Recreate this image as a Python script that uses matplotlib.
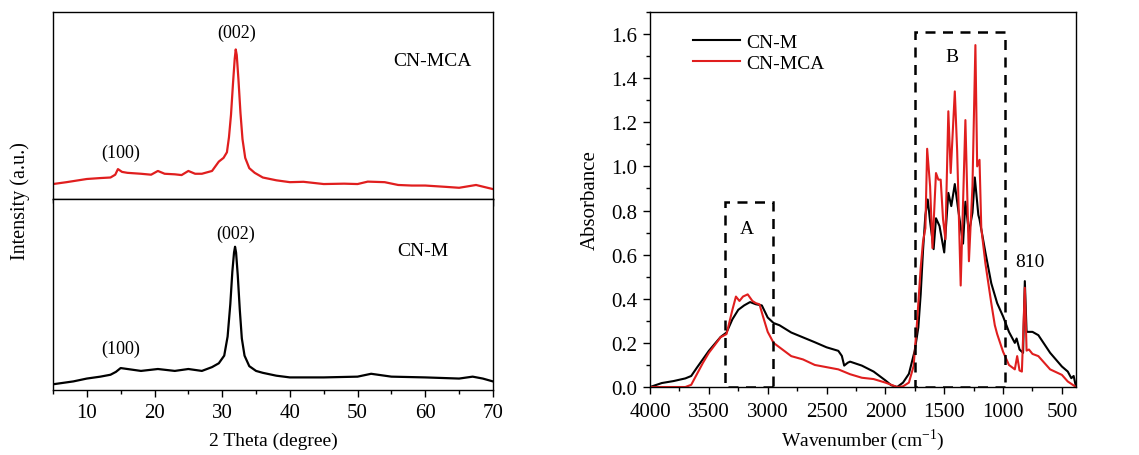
import matplotlib
matplotlib.use("Agg")
import matplotlib.pyplot as plt
from matplotlib.patches import Rectangle
from matplotlib.ticker import MultipleLocator, FormatStrFormatter

plt.rcParams["font.family"] = ["Liberation Serif", "DejaVu Serif"]
plt.rcParams["mathtext.fontset"] = "stix"

# XRD, CN-MCA (top panel, arbitrary units)
xrd_mca_theta = [5, 7, 10, 12, 13.5, 14.2, 14.6, 15.2, 16, 18, 19.5, 20.5, 21.5, 23, 24,
                 25, 26, 27, 28.5, 29.5, 30.2, 30.7, 31.0, 31.3, 31.6, 31.85, 32.0, 32.15,
                 32.4, 32.7, 33.0, 33.4, 34, 34.8, 36, 38, 40, 42, 45, 48, 50, 51.5, 54,
                 56, 58, 60, 63, 65, 67.5, 70]
xrd_mca_int = [0.08, 0.09, 0.107, 0.112, 0.115, 0.13, 0.16, 0.145, 0.14, 0.135, 0.13, 0.15,
               0.135, 0.132, 0.128, 0.15, 0.135, 0.135, 0.15, 0.2, 0.22, 0.25, 0.33, 0.45,
               0.62, 0.75, 0.80, 0.77, 0.64, 0.46, 0.32, 0.22, 0.165, 0.14, 0.115, 0.1,
               0.09, 0.092, 0.08, 0.082, 0.08, 0.093, 0.09, 0.075, 0.072, 0.072, 0.065,
               0.06, 0.075, 0.053]

# XRD, CN-M (bottom panel)
xrd_m_theta = [5, 8, 10, 12, 13.5, 14.3, 15, 16, 18, 20.5, 23, 25, 27, 28.5, 29.5, 30.3,
               30.8, 31.2, 31.5, 31.75, 31.9, 32.05, 32.3, 32.6, 32.9, 33.3, 34, 35, 36,
               38, 40, 45, 50, 52, 55, 60, 65, 67, 68.5, 70]
xrd_m_int = [0.03, 0.045, 0.06, 0.07, 0.08, 0.095, 0.115, 0.11, 0.1, 0.11, 0.1, 0.11, 0.1,
             0.12, 0.14, 0.18, 0.28, 0.45, 0.62, 0.72, 0.75, 0.72, 0.6, 0.42, 0.27, 0.18,
             0.125, 0.1, 0.09, 0.075, 0.066, 0.066, 0.07, 0.085, 0.07, 0.066, 0.06, 0.07,
             0.06, 0.045]

# FTIR, CN-M
ir_m_wn = [4000, 3900, 3800, 3700, 3650, 3600, 3500, 3400, 3350, 3300, 3250, 3200, 3150,
           3100, 3050, 3000, 2950, 2900, 2800, 2700, 2600, 2500, 2400, 2370, 2350, 2320,
           2300, 2200, 2100, 2000, 1950, 1900, 1850, 1800, 1750, 1720, 1700, 1680, 1660,
           1640, 1620, 1590, 1570, 1540, 1500, 1465, 1440, 1410, 1380, 1340, 1320, 1290,
           1260, 1240, 1210, 1200, 1150, 1100, 1050, 1000, 950, 900, 885, 860, 830, 815,
           800, 750, 700, 600, 500, 450, 420, 400, 380]
ir_m_abs = [0.0, 0.018, 0.027, 0.039, 0.05, 0.089, 0.164, 0.227, 0.247, 0.307, 0.35, 0.37,
            0.385, 0.375, 0.37, 0.315, 0.29, 0.28, 0.247, 0.225, 0.203, 0.18, 0.164, 0.141,
            0.097, 0.11, 0.115, 0.097, 0.07, 0.03, 0.008, 0.0, 0.02, 0.06, 0.166, 0.27,
            0.42, 0.62, 0.78, 0.85, 0.75, 0.625, 0.765, 0.73, 0.61, 0.88, 0.82, 0.92, 0.80,
            0.65, 0.84, 0.70, 0.79, 0.95, 0.78, 0.76, 0.61, 0.47, 0.38, 0.32, 0.25, 0.2,
            0.22, 0.17, 0.155, 0.48, 0.25, 0.25, 0.235, 0.155, 0.093, 0.07, 0.04, 0.05, 0.0]

# FTIR, CN-MCA
ir_mca_wn = [4000, 3700, 3650, 3600, 3550, 3500, 3450, 3400, 3350, 3300, 3270, 3240, 3210,
             3170, 3130, 3100, 3070, 3040, 3000, 2950, 2900, 2800, 2700, 2600, 2500, 2400,
             2300, 2200, 2100, 2000, 1900, 1850, 1800, 1760, 1730, 1700, 1680, 1660, 1645,
             1620, 1600, 1570, 1550, 1530, 1510, 1490, 1465, 1445, 1410, 1390, 1360, 1320,
             1290, 1260, 1235, 1220, 1200, 1185, 1150, 1100, 1070, 1050, 1000, 950, 900,
             880, 860, 840, 815, 800, 780, 750, 700, 600, 500, 450, 380]
ir_mca_abs = [0.0, 0.0, 0.01, 0.06, 0.11, 0.155, 0.19, 0.226, 0.24, 0.35, 0.41, 0.39, 0.41,
              0.42, 0.39, 0.38, 0.375, 0.32, 0.25, 0.2, 0.18, 0.14, 0.125, 0.1, 0.09, 0.08,
              0.058, 0.042, 0.036, 0.02, 0.0, 0.003, 0.02, 0.095, 0.3, 0.54, 0.66, 0.72,
              1.08, 0.91, 0.63, 0.97, 0.94, 0.94, 0.76, 0.67, 1.25, 0.97, 1.34, 1.07, 0.46,
              1.21, 0.57, 0.91, 1.55, 1.0, 1.03, 0.72, 0.56, 0.38, 0.28, 0.24, 0.16, 0.1,
              0.08, 0.14, 0.075, 0.07, 0.45, 0.165, 0.17, 0.15, 0.14, 0.08, 0.055, 0.025, 0.0]

RED = "#e01e1e"
TICK_FS = 15

fig = plt.figure(figsize=(11.39, 4.56), dpi=100)
ax_top = fig.add_axes([0.0465, 0.5614, 0.3863, 0.410])
ax_bot = fig.add_axes([0.0465, 0.1425, 0.3863, 0.4189], sharex=ax_top)
ax_ir = fig.add_axes([0.5707, 0.1491, 0.374, 0.8224])

# --- XRD panels ---
ax_top.plot(xrd_mca_theta, xrd_mca_int, color=RED, lw=1.6)
ax_bot.plot(xrd_m_theta, xrd_m_int, color="black", lw=1.6)
for ax in (ax_top, ax_bot):
    ax.set_xlim(5, 70)
    ax.set_ylim(0, 1)
    ax.set_yticks([])
    ax.xaxis.set_major_locator(MultipleLocator(10))
    ax.xaxis.set_minor_locator(MultipleLocator(5))
    ax.tick_params(axis="x", which="major", direction="out", length=5, width=1.0,
                   labelsize=TICK_FS, pad=4)
    ax.tick_params(axis="x", which="minor", direction="out", length=3, width=1.0)
    for s in ax.spines.values():
        s.set_linewidth(1.0)
ax_top.tick_params(axis="x", labelbottom=False)

ax_top.text(32.2, 0.89, "(002)", ha="center", va="center", fontsize=13)
ax_top.text(15.0, 0.25, "(100)", ha="center", va="center", fontsize=13)
ax_top.text(61.1, 0.74, "CN-MCA", ha="center", va="center", fontsize=14)
ax_bot.text(32.0, 0.82, "(002)", ha="center", va="center", fontsize=13)
ax_bot.text(15.0, 0.22, "(100)", ha="center", va="center", fontsize=13)
ax_bot.text(59.6, 0.73, "CN-M", ha="center", va="center", fontsize=14)

ax_bot.set_xlabel("2 Theta (degree)", fontsize=14, labelpad=7)
fig.text(0.018, 0.56, "Intensity (a.u.)", rotation=90, ha="center", va="center", fontsize=14.5)

# --- FTIR panel ---
ax_ir.plot(ir_m_wn, ir_m_abs, color="black", lw=1.5, label="CN-M")
ax_ir.plot(ir_mca_wn, ir_mca_abs, color=RED, lw=1.5, label="CN-MCA")
ax_ir.set_xlim(4000, 380)
ax_ir.set_ylim(0, 1.7)
ax_ir.xaxis.set_major_locator(MultipleLocator(500))
ax_ir.xaxis.set_minor_locator(MultipleLocator(250))
ax_ir.yaxis.set_major_locator(MultipleLocator(0.2))
ax_ir.yaxis.set_minor_locator(MultipleLocator(0.1))
ax_ir.yaxis.set_major_formatter(FormatStrFormatter("%.1f"))
ax_ir.tick_params(which="major", direction="out", length=5, width=1.0,
                  labelsize=TICK_FS, pad=4)
ax_ir.tick_params(axis="x", which="major", pad=6)
ax_ir.tick_params(which="minor", direction="out", length=3, width=1.0)
for s in ax_ir.spines.values():
    s.set_linewidth(1.0)

for x0, x1, top in [(3360, 2955, 0.84), (1750, 980, 1.61)]:
    ax_ir.add_patch(Rectangle((x1, 0), x0 - x1, top, fill=False, ec="black",
                              lw=1.8, ls=(0, (4, 3)), zorder=3))
ax_ir.text(3180, 0.72, "A", ha="center", va="center", fontsize=14)
ax_ir.text(1436, 1.50, "B", ha="center", va="center", fontsize=14)
ax_ir.text(775, 0.57, "810", ha="center", va="center", fontsize=14)

ax_ir.legend(loc="upper left", bbox_to_anchor=(0.07, 0.98), frameon=False, fontsize=14,
             handlelength=2.4, handletextpad=0.3, labelspacing=0.2, borderpad=0.2)
ax_ir.set_xlabel(r"Wavenumber (cm$^{\mathregular{-1}}$)", fontsize=14, labelpad=4)
ax_ir.set_ylabel("Absorbance", fontsize=15, labelpad=8)

fig.savefig("out.png", dpi=100)
